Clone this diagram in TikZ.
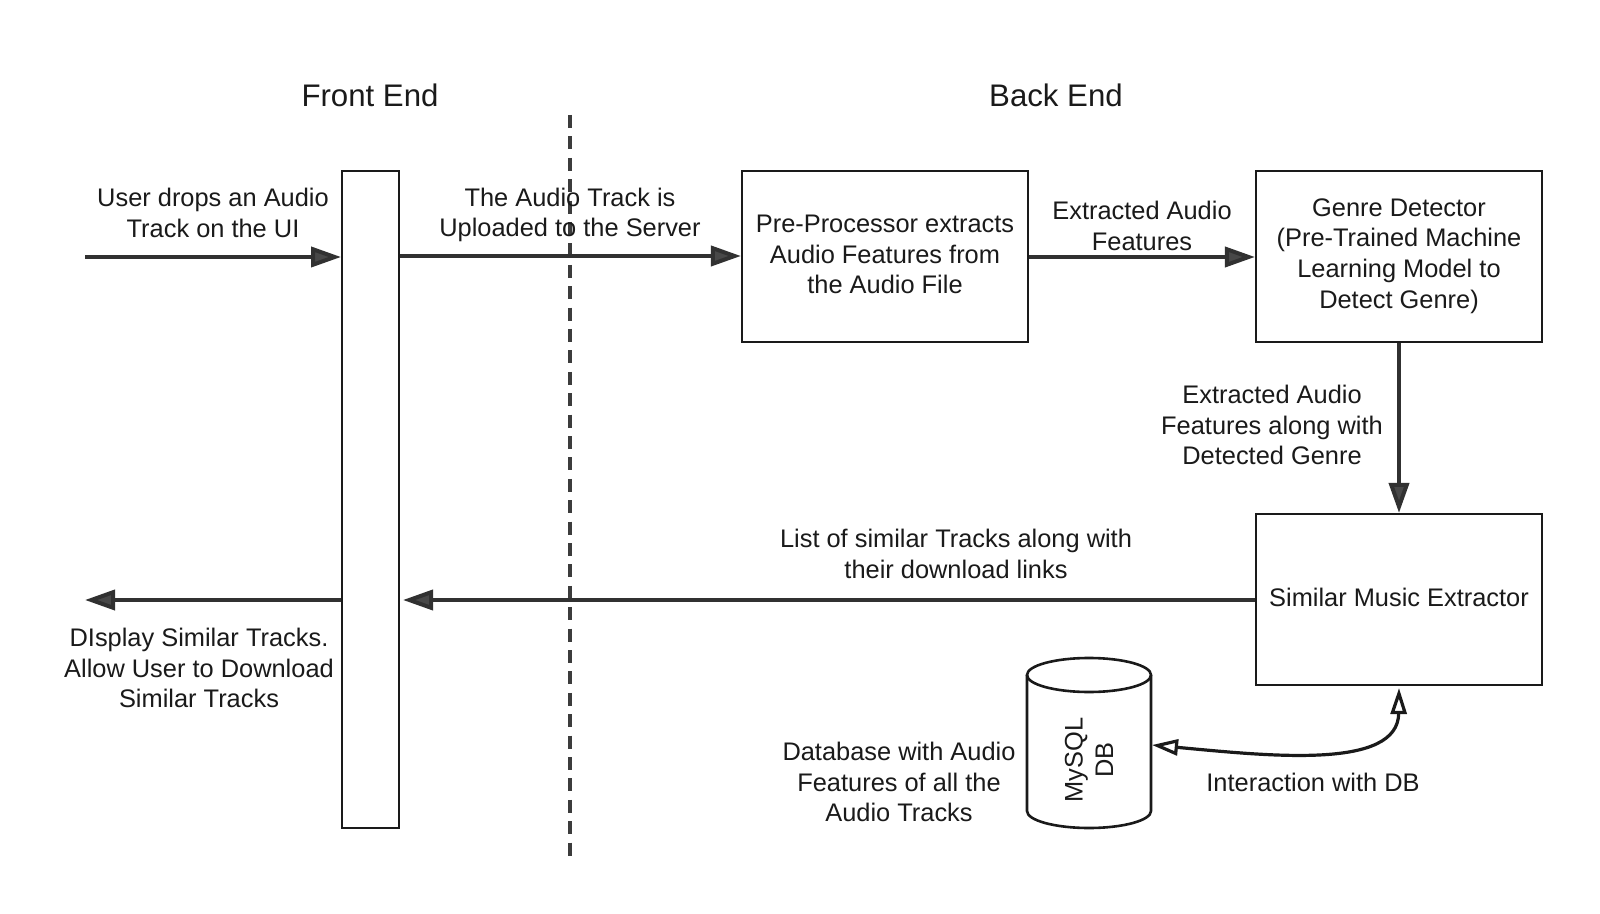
\documentclass[tikz,border=0pt]{standalone}
\usepackage{fontspec}
\setmainfont{Liberation Sans}
\usetikzlibrary{arrows.meta}
\definecolor{ink}{HTML}{1A1A1A}
\tikzset{
  lbl/.style={align=center, text=ink, font=\fontsize{12.7}{15.3}\selectfont, inner sep=0pt},
  ttl/.style={text=ink, font=\fontsize{15.6}{18}\selectfont, inner sep=0pt},
  procbox/.style={draw=ink, line width=1.1pt, minimum width=143pt, minimum height=85.5pt, inner sep=0pt},
  flow/.style={draw=ink!90, line width=2pt, -{Triangle[length=15pt,width=10pt,fill=ink!80]}},
  dbflow/.style={draw=ink, line width=1.6pt, {Triangle[open,length=13pt,width=8pt,fill=white]}-{Triangle[open,length=13pt,width=8pt,fill=white]}},
}
\begin{document}
\begin{tikzpicture}[x=0.5pt,y=-0.5pt]
\useasboundingbox[fill=white] (0,0) rectangle (1600,914);
% titles
\node[ttl] (fe) at (370,95) {Front End};
\node[ttl] (be) at (1056,95) {Back End};
% divider
\coordinate (dtop) at (570,115);
\coordinate (dbot) at (570,858);
\draw[ink!85, line width=1.8pt, dash pattern=on 6.5pt off 4.2pt] (dtop) -- (dbot);
% front end bar
\node[draw=ink, line width=1pt, minimum width=28.5pt, minimum height=328.5pt, inner sep=0pt] (bar) at (370.5,499.5) {};
% boxes
\node[procbox] (pre) at (885,256.5) {};
\node[lbl] at (885,254.5) {Pre-Processor extracts\\Audio Features from\\the Audio File};
\node[procbox] (gen) at (1399,256.5) {};
\node[lbl] at (1399,256) {Genre Detector\\(Pre-Trained Machine\\Learning Model to\\Detect Genre)};
\node[procbox] (sim) at (1399,599.5) {};
\node[lbl] at (1399,597) {Similar Music Extractor};
% database cylinder
\draw[ink, line width=1.3pt, fill=white] (1027,675) -- (1027,811) arc[start angle=180,end angle=0,x radius=62,y radius=17] -- (1151,675);
\draw[ink, line width=1.3pt] (1089,675) ellipse[x radius=62,y radius=17];
\node[lbl, rotate=90] (db) at (1089,760) {MySQL\\DB};
\coordinate (dbr) at (1152,745);
% arrows
\coordinate (in) at (85,257);
\draw[flow] (in) -- (in -| bar.west);
\draw[flow] (bar.east |- 0,256) -- (pre.west |- 0,256);
\draw[flow] (pre.east |- 0,257) -- (gen.west |- 0,257);
\draw[flow] (gen.south) -- (sim.north);
\draw[flow] (sim.west |- 0,600) -- ([xshift=1.5pt]bar.east |- 0,600);
\coordinate (out) at (85,600);
\draw[flow] (bar.west |- out) -- (out);
\draw[dbflow] (dbr) .. controls (1270,756) and (1398,770) .. ([yshift=-1pt]sim.south);
% labels
\node[lbl] (l1) at (213,213) {User drops an Audio\\Track on the UI};
\node[lbl] (l2) at (570,215) {The Audio Track is\\Uploaded to the Server};
\node[lbl] (l3) at (1142,226) {Extracted Audio\\Features};
\node[lbl] (l4) at (1272,425) {Extracted Audio\\Features along with\\Detected Genre};
\node[lbl] (l5) at (956,554) {List of similar Tracks along with\\their download links};
\node[lbl] (l6) at (199,668) {DIsplay Similar Tracks.\\Allow User to Download\\Similar Tracks};
\node[lbl] (l7) at (899,782) {Database with Audio\\Features of all the\\Audio Tracks};
\node[lbl] (l8) at (1313,782) {Interaction with DB};
\end{tikzpicture}
\end{document}
